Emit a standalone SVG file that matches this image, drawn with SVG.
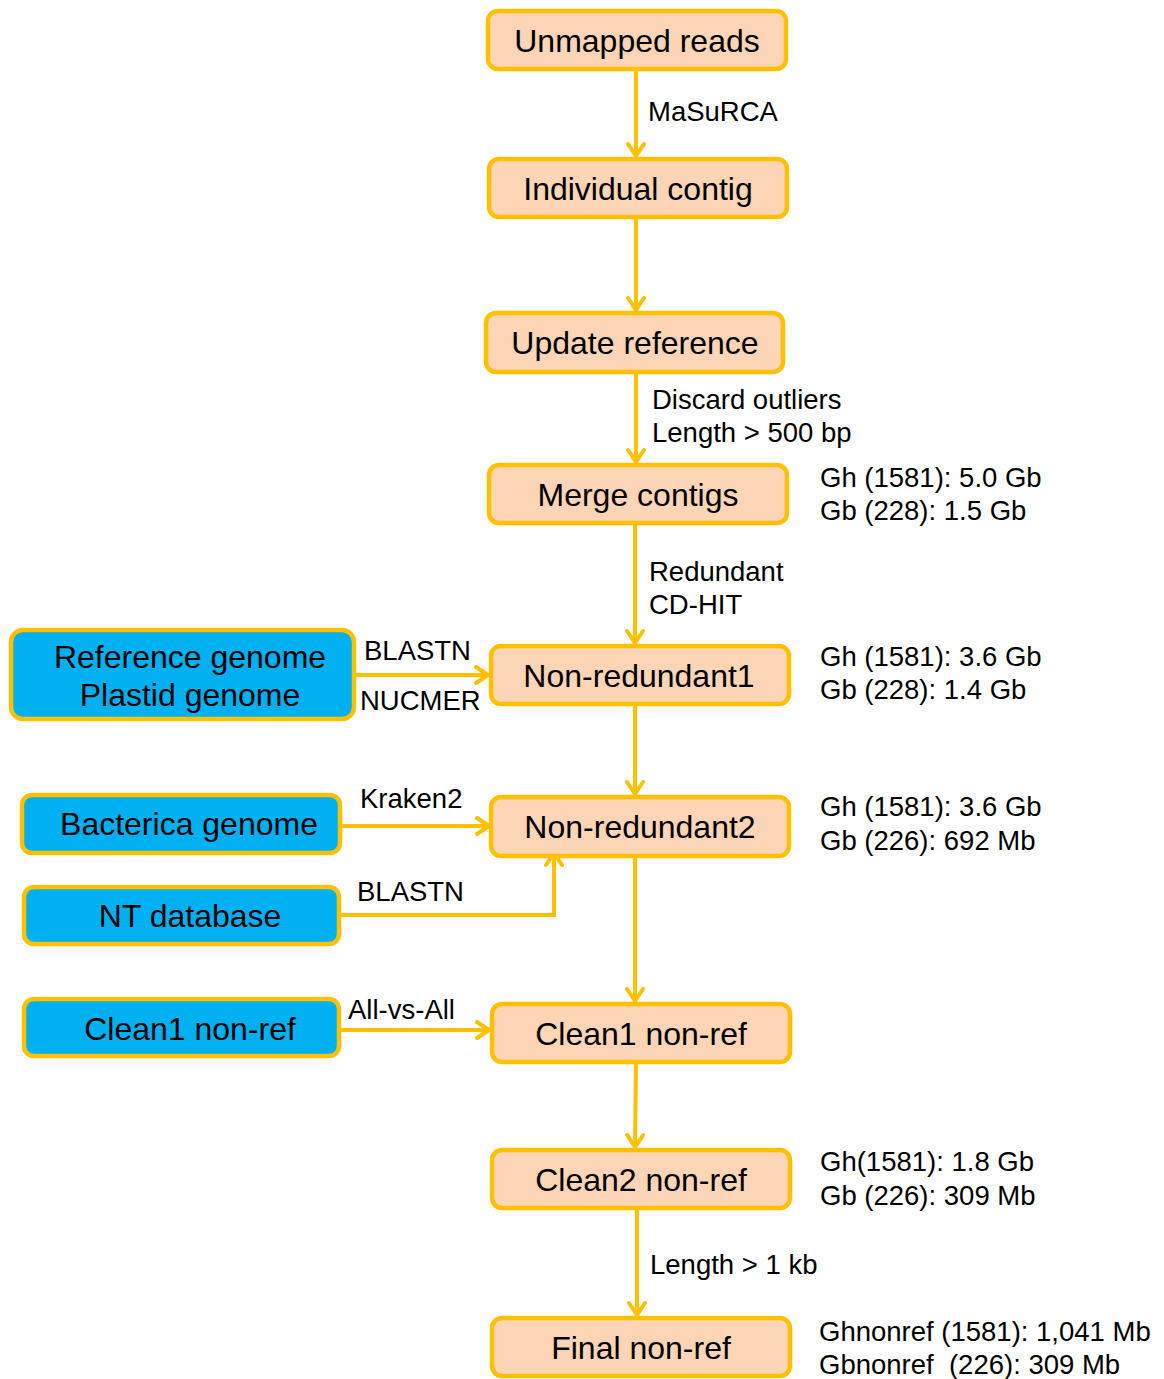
<svg xmlns="http://www.w3.org/2000/svg" width="1164" height="1379" viewBox="0 0 1164 1379">
<defs>
<marker id="ah" markerWidth="20" markerHeight="20" viewBox="0 0 20 20" refX="16" refY="10" orient="auto" markerUnits="userSpaceOnUse">
<path d="M4,2 L16,10 L4,18" fill="none" stroke="#FFC000" stroke-width="4" stroke-linecap="round" stroke-linejoin="round"/>
</marker>
<style>
.o{fill:#FBD5B5;stroke:#FFC000;stroke-width:4.5}
.b{fill:#00B0F0;stroke:#FFC000;stroke-width:4.5}
.t{font-family:"Liberation Sans",Arial,sans-serif;font-size:32px;fill:#000;text-anchor:middle}
.l{font-family:"Liberation Sans",Arial,sans-serif;font-size:27.5px;fill:#000}
.c{fill:none;stroke:#FFC000;stroke-width:4;marker-end:url(#ah)}
</style>
</defs>
<rect width="1164" height="1379" fill="#fff"/>
<g id="connectors">
<line class="c" x1="636" y1="70" x2="636" y2="156"/>
<line class="c" x1="636" y1="218" x2="636" y2="310"/>
<line class="c" x1="636" y1="373" x2="636" y2="462"/>
<line class="c" x1="635" y1="524" x2="635" y2="643"/>
<line class="c" x1="635" y1="705" x2="635" y2="794"/>
<line class="c" x1="635" y1="857" x2="635" y2="1001"/>
<line class="c" x1="636" y1="1063" x2="635" y2="1147"/>
<line class="c" x1="637" y1="1209" x2="637" y2="1315"/>
<line class="c" x1="355" y1="675" x2="488" y2="675"/>
<line class="c" x1="341" y1="826" x2="489" y2="826"/>
<polyline class="c" points="340,915 554,915 554,853"/>
<line class="c" x1="340" y1="1030" x2="489" y2="1030"/>
<text class="l" x="648" y="121">MaSuRCA</text>
<text class="l" x="652" y="409">Discard outliers</text>
<text class="l" x="652" y="442">Length &gt; 500 bp</text>
<text class="l" x="649" y="581">Redundant</text>
<text class="l" x="649" y="614">CD-HIT</text>
<text class="l" x="364" y="660">BLASTN</text>
<text class="l" x="360" y="710">NUCMER</text>
<text class="l" x="360" y="808">Kraken2</text>
<text class="l" x="357" y="901">BLASTN</text>
<text class="l" x="348" y="1019">All-vs-All</text>
<text class="l" x="650" y="1274">Length &gt; 1 kb</text>
</g>
<g id="unmapped"><rect class="o" x="488" y="11" width="298" height="58" rx="10"/><text class="t" x="637" y="52">Unmapped reads</text></g>
<g id="individual"><rect class="o" x="489" y="159" width="298" height="58" rx="10"/><text class="t" x="638" y="200">Individual contig</text></g>
<g id="update"><rect class="o" x="486" y="313" width="297" height="59" rx="10"/><text class="t" x="635" y="354">Update reference</text></g>
<g id="merge"><rect class="o" x="489" y="465" width="298" height="58" rx="10"/><text class="t" x="638" y="506">Merge contigs</text>
<text class="l" x="820" y="487">Gh (1581): 5.0 Gb</text><text class="l" x="820" y="520">Gb (228): 1.5 Gb</text></g>
<g id="nr1"><rect class="o" x="491" y="646" width="298" height="58" rx="10"/><text class="t" x="639" y="687">Non-redundant1</text>
<text class="l" x="820" y="666">Gh (1581): 3.6 Gb</text><text class="l" x="820" y="699">Gb (228): 1.4 Gb</text></g>
<g id="nr2"><rect class="o" x="491" y="797" width="298" height="59" rx="10"/><text class="t" x="640" y="838">Non-redundant2</text>
<text class="l" x="820" y="816">Gh (1581): 3.6 Gb</text><text class="l" x="820" y="850">Gb (226): 692 Mb</text></g>
<g id="clean1"><rect class="o" x="492" y="1004" width="298" height="58" rx="10"/><text class="t" x="641" y="1045">Clean1 non-ref</text></g>
<g id="clean2"><rect class="o" x="492" y="1150" width="298" height="58" rx="10"/><text class="t" x="641" y="1191">Clean2 non-ref</text>
<text class="l" x="820" y="1171">Gh(1581): 1.8 Gb</text><text class="l" x="820" y="1205">Gb (226): 309 Mb</text></g>
<g id="final"><rect class="o" x="492" y="1318" width="298" height="58" rx="10"/><text class="t" x="641" y="1359">Final non-ref</text>
<text class="l" x="819" y="1341">Ghnonref (1581): 1,041 Mb</text><text class="l" x="819" y="1374" xml:space="preserve">Gbnonref  (226): 309 Mb</text></g>
<g id="refgenome"><rect class="b" x="11" y="630" width="343" height="89" rx="12"/><text class="t" x="190" y="668">Reference genome</text><text class="t" x="190" y="706">Plastid genome</text></g>
<g id="bacterica"><rect class="b" x="22" y="795" width="318" height="58" rx="10"/><text class="t" x="189" y="835">Bacterica genome</text></g>
<g id="ntdb"><rect class="b" x="24" y="887" width="315" height="57" rx="10"/><text class="t" x="190" y="927">NT database</text></g>
<g id="clean1blue"><rect class="b" x="24" y="999" width="315" height="57" rx="10"/><text class="t" x="190" y="1040">Clean1 non-ref</text></g>
</svg>
